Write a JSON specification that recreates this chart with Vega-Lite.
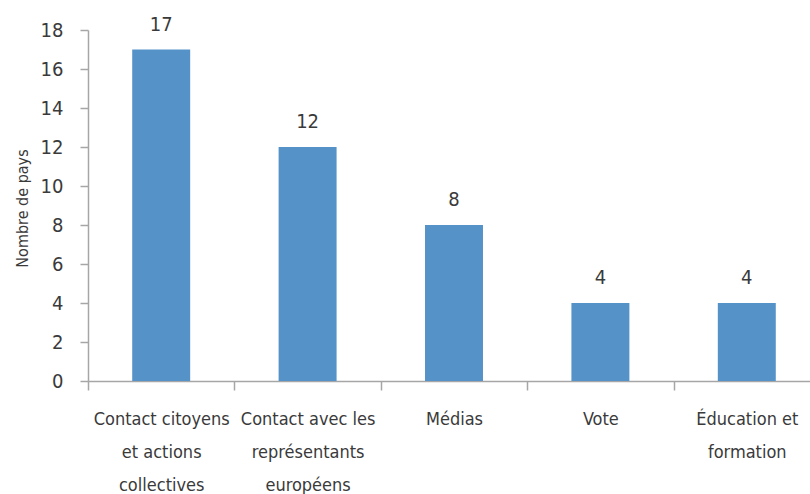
{
  "$schema": "https://vega.github.io/schema/vega-lite/v6.json",
  "width": 722,
  "height": 351,
  "autosize": {"type": "none"},
  "padding": {"left": 88, "top": 30, "right": 0, "bottom": 113},
  "background": "white",
  "config": {
    "view": {"stroke": null},
    "font": "DejaVu Sans Condensed, Liberation Sans, sans-serif"
  },
  "data": {
    "values": [
      {"cat": "Contact citoyens|et actions|collectives", "n": 17},
      {"cat": "Contact avec les|représentants|européens", "n": 12},
      {"cat": "Médias", "n": 8},
      {"cat": "Vote", "n": 4},
      {"cat": "Éducation et|formation", "n": 4}
    ]
  },
  "encoding": {
    "x": {
      "field": "cat",
      "type": "nominal",
      "sort": null,
      "scale": {"paddingInner": 0, "paddingOuter": 0, "range": [0, 732]},
      "axis": {
        "title": null,
        "labelAngle": 0,
        "labelExpr": "split(datum.label, '|')",
        "labelFontSize": 18,
        "labelColor": "#3a3a3a",
        "labelLineHeight": 33,
        "labelPadding": 20,
        "labelLimit": 300,
        "tickBand": "extent",
        "tickSize": 9,
        "tickColor": "#a6a6a6",
        "tickWidth": 1.5,
        "domainColor": "#a6a6a6",
        "domainWidth": 1.5
      }
    },
    "y": {
      "field": "n",
      "type": "quantitative",
      "scale": {"domain": [0, 18]},
      "axis": {
        "title": "Nombre de pays",
        "titleFontSize": 16,
        "titleFontWeight": "normal",
        "titleColor": "#3a3a3a",
        "titleX": -66,
        "titleY": 178,
        "titleAngle": -90,
        "titleAlign": "center",
        "titleBaseline": "middle",
        "values": [0, 2, 4, 6, 8, 10, 12, 14, 16, 18],
        "grid": false,
        "labelFontSize": 20,
        "labelColor": "#3a3a3a",
        "labelPadding": 17,
        "tickSize": 8,
        "tickColor": "#a6a6a6",
        "tickWidth": 1.5,
        "domainColor": "#a6a6a6",
        "domainWidth": 1.5
      }
    }
  },
  "layer": [
    {
      "mark": {"type": "bar", "color": "#5592c8", "width": {"band": 0.396}}
    },
    {
      "mark": {"type": "text", "baseline": "bottom", "dy": -15, "fontSize": 20, "color": "#3a3a3a"},
      "encoding": {"text": {"field": "n", "type": "quantitative"}}
    }
  ]
}
